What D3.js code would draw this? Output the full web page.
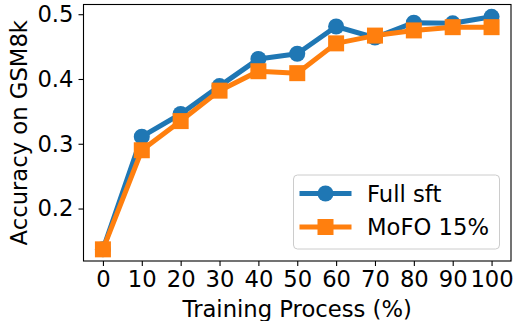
<!DOCTYPE html>
<html>
<head>
<meta charset="utf-8">
<script src="https://cdn.jsdelivr.net/npm/d3@7"></script>
<style>
body { margin: 0; background: #fff; }
text { font-family: "DejaVu Sans", sans-serif; fill: #000; }
</style>
</head>
<body>
<svg width="513" height="321"></svg>
<script>
// training progress (%) and accuracy for each method
var steps = [0, 10, 20, 30, 40, 50, 60, 70, 80, 90, 100];
var fullSft = [0.137, 0.311, 0.346, 0.389, 0.431, 0.439, 0.481, 0.464, 0.487, 0.486, 0.496];
var mofo = [0.137, 0.290, 0.335, 0.382, 0.412, 0.409, 0.455, 0.467, 0.475, 0.480, 0.480];
var seriesNames = ["Full sft", "MoFO 15%"];
var yTicks = [0.2, 0.3, 0.4, 0.5];

var svg = d3.select("svg"),
margin = {top: 4.5, right: 2, bottom: 60, left: 83.5},
width = 513 - margin.left - margin.right,
height = 321 - margin.top - margin.bottom;

var fs = 22.7;

var x = d3.scaleLinear().domain([-5, 105]).range([margin.left, margin.left + width]);
var y = d3.scaleLinear().domain([0.119, 0.515]).range([margin.top + height, margin.top]);

var colors = ["#1f77b4", "#ff7f0e"];

// axes
var xAxis = svg.append("g")
  .attr("transform", "translate(0," + (margin.top + height) + ")")
  .call(d3.axisBottom(x).tickValues(steps).tickSize(5).tickPadding(5).tickFormat(d3.format("d")));
var yAxis = svg.append("g")
  .attr("transform", "translate(" + margin.left + ",0)")
  .call(d3.axisLeft(y).tickValues(yTicks).tickSize(5).tickPadding(5).tickFormat(d3.format(".1f")));

[xAxis, yAxis].forEach(function(a) {
  a.select(".domain").remove();
  a.selectAll("line").attr("stroke", "#000").attr("stroke-width", 1.1);
  a.selectAll("text").style("font-size", fs + "px").style("font-family", "DejaVu Sans");
});

// lines + markers
var line = d3.line().x(function(d, i) { return x(steps[i]); }).y(function(d) { return y(d); });
var data = [fullSft, mofo];

data.forEach(function(vals, k) {
  svg.append("path")
    .datum(vals)
    .attr("d", line)
    .attr("fill", "none")
    .attr("stroke", colors[k])
    .attr("stroke-width", 5)
    .attr("stroke-linejoin", "round");
  if (k == 0) {
    svg.selectAll(".c0").data(vals).enter().append("circle")
      .attr("cx", function(d, i) { return x(steps[i]); })
      .attr("cy", function(d) { return y(d); })
      .attr("r", 8)
      .attr("fill", colors[k]);
  } else {
    svg.selectAll(".s1").data(vals).enter().append("rect")
      .attr("x", function(d, i) { return x(steps[i]) - 8; })
      .attr("y", function(d) { return y(d) - 8; })
      .attr("width", 16)
      .attr("height", 16)
      .attr("fill", colors[k]);
  }
});

// frame
svg.append("rect")
  .attr("x", margin.left)
  .attr("y", margin.top)
  .attr("width", width)
  .attr("height", height)
  .attr("fill", "none")
  .attr("stroke", "#000")
  .attr("stroke-width", 1.1);

// axis labels
svg.append("text")
  .attr("x", margin.left + width / 2)
  .attr("y", 317)
  .attr("text-anchor", "middle")
  .style("font-size", fs + "px")
  .text("Training Process (%)");

svg.append("text")
  .attr("transform", "translate(26.5," + (margin.top + height / 2) + ") rotate(-90)")
  .attr("text-anchor", "middle")
  .style("font-size", fs + "px")
  .text("Accuracy on GSM8k");

// legend
var lg = svg.append("g").attr("transform", "translate(293.5,175)");
lg.append("rect")
  .attr("width", 206)
  .attr("height", 74)
  .attr("rx", 4)
  .attr("fill", "#fff")
  .attr("fill-opacity", 0.8)
  .attr("stroke", "#ccc")
  .attr("stroke-width", 1);

seriesNames.forEach(function(name, k) {
  var row = lg.append("g").attr("transform", "translate(0," + (18.5 + k * 33.5) + ")");
  row.append("line")
    .attr("x1", 6).attr("x2", 58)
    .attr("stroke", colors[k])
    .attr("stroke-width", 5);
  if (k == 0) {
    row.append("circle").attr("cx", 32).attr("r", 8).attr("fill", colors[k]);
  } else {
    row.append("rect").attr("x", 24).attr("y", -8).attr("width", 16).attr("height", 16).attr("fill", colors[k]);
  }
  row.append("text")
    .attr("x", 73.5)
    .attr("y", 8.3)
    .style("font-size", fs + "px")
    .text(name);
});
</script>
</body>
</html>
